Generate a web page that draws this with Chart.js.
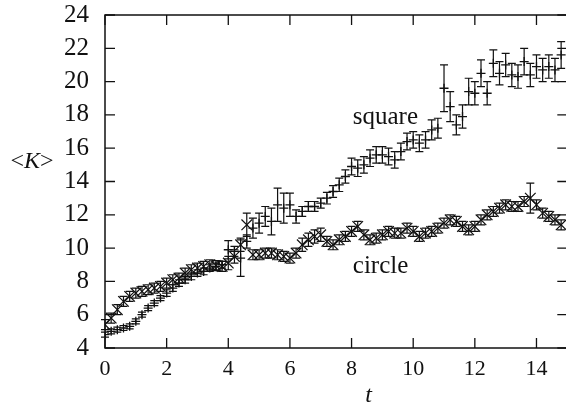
<!DOCTYPE html>
<html>
<head>
<meta charset="utf-8">
<script src="https://cdn.jsdelivr.net/npm/chart.js@4.4.0/dist/chart.umd.min.js"></script>
<style>
  html, body { margin: 0; padding: 0; background: #fff; overflow: hidden; }
  #wrap { width: 566px; height: 407px; overflow: hidden; }
</style>
</head>
<body>
<div id="wrap"><canvas id="chart" width="576" height="407"></canvas></div>
<script>
// time points (shared by both series)
var times = [0, 0.2, 0.4, 0.6, 0.8, 1.0, 1.2, 1.4, 1.6, 1.8,
             2.0, 2.2, 2.4, 2.6, 2.8, 3.0, 3.2, 3.4, 3.6, 3.8,
             4.0, 4.2, 4.4, 4.6, 4.8, 5.0, 5.2, 5.4, 5.6, 5.8,
             6.0, 6.2, 6.4, 6.6, 6.8, 7.0, 7.2, 7.4, 7.6, 7.8,
             8.0, 8.2, 8.4, 8.6, 8.8, 9.0, 9.2, 9.4, 9.6, 9.8,
             10.0, 10.2, 10.4, 10.6, 10.8, 11.0, 11.2, 11.4, 11.6, 11.8,
             12.0, 12.2, 12.4, 12.6, 12.8, 13.0, 13.2, 13.4, 13.6, 13.8,
             14.0, 14.2, 14.4, 14.6, 14.8];

// <K> for the square lattice, with error
var squareK = [4.8, 5.0, 5.1, 5.2, 5.3, 5.6, 6.0, 6.4, 6.7, 7.0,
               7.3, 7.6, 7.9, 8.1, 8.3, 8.5, 8.6, 8.8, 8.9, 9.0,
               9.9, 9.8, 9.4, 10.4, 11.2, 11.5, 11.9, 11.6, 12.6, 12.4,
               12.6, 11.9, 12.2, 12.5, 12.5, 12.7, 13.0, 13.4, 13.8, 14.3,
               14.9, 14.8, 15.0, 15.4, 15.6, 15.6, 15.5, 15.3, 15.8, 16.4,
               16.5, 16.3, 16.5, 17.1, 17.2, 19.6, 18.5, 17.4, 17.9, 19.4,
               19.3, 20.5, 19.3, 21.1, 20.5, 21.0, 20.4, 20.3, 21.2, 20.4,
               20.9, 20.7, 20.9, 20.7, 21.6];
var squareErr = [0.15, 0.15, 0.15, 0.15, 0.15, 0.15, 0.15, 0.15, 0.15, 0.15,
                 0.2, 0.2, 0.2, 0.2, 0.2, 0.2, 0.2, 0.2, 0.2, 0.2,
                 0.55, 0.3, 1.1, 0.4, 0.6, 0.6, 0.6, 0.8, 1.0, 0.9,
                 0.7, 0.4, 0.3, 0.3, 0.3, 0.3, 0.35, 0.35, 0.4, 0.4,
                 0.5, 0.5, 0.5, 0.5, 0.5, 0.5, 0.5, 0.5, 0.5, 0.5,
                 0.5, 0.5, 0.5, 0.6, 0.6, 1.4, 0.9, 0.6, 0.7, 0.8,
                 0.7, 0.8, 0.7, 0.8, 0.7, 0.7, 0.7, 0.7, 0.8, 0.7,
                 0.7, 0.7, 0.7, 0.7, 0.8];

// <K> for the circle lattice, with error
var circleK = [5.4, 5.8, 6.3, 6.8, 7.1, 7.3, 7.4, 7.5, 7.6, 7.7,
               7.9, 8.1, 8.2, 8.5, 8.7, 8.8, 8.9, 9.0, 8.95, 8.9,
               9.1, 9.5, 10.2, 11.4, 9.6, 9.6, 9.7, 9.7, 9.6, 9.5,
               9.4, 9.7, 10.2, 10.5, 10.7, 10.8, 10.4, 10.2, 10.5, 10.7,
               11.0, 11.3, 10.8, 10.5, 10.6, 10.8, 11.0, 10.9, 10.9, 11.2,
               11.0, 10.7, 10.9, 11.0, 11.2, 11.5, 11.7, 11.6, 11.3, 11.1,
               11.3, 11.7, 12.0, 12.2, 12.4, 12.6, 12.5, 12.5, 12.8, 13.0,
               12.6, 12.1, 11.9, 11.7, 11.4];
var circleErr = [0.3, 0.3, 0.3, 0.3, 0.3, 0.3, 0.3, 0.3, 0.3, 0.3,
                 0.3, 0.3, 0.3, 0.3, 0.3, 0.3, 0.3, 0.3, 0.3, 0.3,
                 0.4, 0.4, 0.4, 0.7, 0.3, 0.3, 0.3, 0.3, 0.3, 0.3,
                 0.3, 0.3, 0.4, 0.4, 0.4, 0.4, 0.3, 0.3, 0.3, 0.3,
                 0.3, 0.3, 0.3, 0.3, 0.3, 0.3, 0.3, 0.3, 0.3, 0.3,
                 0.3, 0.3, 0.3, 0.3, 0.3, 0.3, 0.3, 0.3, 0.3, 0.3,
                 0.3, 0.3, 0.3, 0.3, 0.3, 0.3, 0.3, 0.3, 0.3, 0.9,
                 0.3, 0.3, 0.3, 0.3, 0.3];

var xTicks = [0, 2, 4, 6, 8, 10, 12, 14];
var yTicks = [4, 6, 8, 10, 12, 14, 16, 18, 20, 22, 24];

function toPoints(ks, errs) {
  return times.map(function (t, i) { return { x: t, y: ks[i], err: errs[i] }; });
}

var SERIF = '"Liberation Serif", "Times New Roman", serif';

// error bars with small caps, drawn under the markers
var errorBars = {
  id: 'errorBars',
  beforeDatasetsDraw: function (chart) {
    var ctx = chart.ctx, xs = chart.scales.x, ys = chart.scales.y;
    ctx.save();
    ctx.strokeStyle = '#111';
    ctx.lineWidth = 1.2;
    chart.data.datasets.forEach(function (ds) {
      ds.data.forEach(function (p) {
        var px = xs.getPixelForValue(p.x);
        var y1 = ys.getPixelForValue(p.y - p.err);
        var y2 = ys.getPixelForValue(p.y + p.err);
        ctx.beginPath();
        ctx.moveTo(px, y1); ctx.lineTo(px, y2);
        ctx.moveTo(px - 4, y1); ctx.lineTo(px + 4, y1);
        ctx.moveTo(px - 4, y2); ctx.lineTo(px + 4, y2);
        ctx.stroke();
      });
    });
    ctx.restore();
  }
};

// frame, inward ticks on all four sides, axis titles and series labels
var frame = {
  id: 'frame',
  afterDraw: function (chart) {
    var ctx = chart.ctx, a = chart.chartArea, xs = chart.scales.x, ys = chart.scales.y;
    ctx.save();
    ctx.strokeStyle = '#111';
    ctx.lineWidth = 1.5;
    ctx.strokeRect(a.left, a.top, a.right - a.left, a.bottom - a.top);
    ctx.lineWidth = 1.3;
    ctx.beginPath();
    xTicks.forEach(function (v) {
      var px = xs.getPixelForValue(v);
      ctx.moveTo(px, a.bottom); ctx.lineTo(px, a.bottom - 10);
      ctx.moveTo(px, a.top); ctx.lineTo(px, a.top + 10);
    });
    yTicks.forEach(function (v) {
      var py = ys.getPixelForValue(v);
      ctx.moveTo(a.left, py); ctx.lineTo(a.left + 10, py);
      ctx.moveTo(a.right, py); ctx.lineTo(a.right - 10, py);
    });
    ctx.stroke();

    ctx.fillStyle = '#111';
    ctx.textBaseline = 'alphabetic';
    // y title  <K>
    ctx.font = '24px ' + SERIF;
    ctx.textAlign = 'left';
    var lt = ctx.measureText('<').width;
    ctx.font = 'italic 24px ' + SERIF;
    var kw = ctx.measureText('K').width;
    var x0 = 32 - (2 * lt + kw) / 2, yb = 168;
    ctx.font = '24px ' + SERIF;
    ctx.fillText('<', x0, yb);
    ctx.font = 'italic 24px ' + SERIF;
    ctx.fillText('K', x0 + lt, yb);
    ctx.font = '24px ' + SERIF;
    ctx.fillText('>', x0 + lt + kw, yb);
    // x title
    ctx.font = 'italic 24px ' + SERIF;
    ctx.textAlign = 'center';
    ctx.fillText('t', xs.getPixelForValue(8.55), 402);
    // series labels
    ctx.font = '25px ' + SERIF;
    ctx.textAlign = 'left';
    ctx.fillText('square', xs.getPixelForValue(8.04), ys.getPixelForValue(17.45));
    ctx.fillText('circle', xs.getPixelForValue(8.04), ys.getPixelForValue(8.5));
    ctx.restore();
  }
};

var chart = new Chart(document.getElementById('chart'), {
  type: 'scatter',
  data: {
    datasets: [{
      label: 'square',
      data: toPoints(squareK, squareErr),
      pointStyle: 'cross',
      pointRadius: 4.5,
      borderColor: '#111',
      backgroundColor: '#111',
      pointBorderWidth: 1.3
    }, {
      label: 'circle',
      data: toPoints(circleK, circleErr),
      pointStyle: 'crossRot',
      pointRadius: 7.5,
      borderColor: '#111',
      backgroundColor: '#111',
      pointBorderWidth: 1.2
    }]
  },
  options: {
    responsive: false,
    animation: false,
    layout: { padding: { top: 15, right: 4.5, left: 0, bottom: 0 } },
    plugins: {
      legend: { display: false },
      tooltip: { enabled: false }
    },
    scales: {
      x: {
        type: 'linear',
        min: 0,
        max: 15,
        afterBuildTicks: function (scale) {
          scale.ticks = xTicks.map(function (v) { return { value: v }; });
        },
        afterFit: function (scale) {
          scale.height = 59;
          scale.paddingLeft = 0;
          scale.paddingRight = 0;
        },
        border: { display: false },
        grid: { display: false, drawTicks: false },
        ticks: {
          autoSkip: false,
          maxRotation: 0,
          padding: 8,
          color: '#111',
          font: { family: SERIF, size: 22 }
        }
      },
      y: {
        min: 4,
        max: 24,
        afterBuildTicks: function (scale) {
          scale.ticks = yTicks.map(function (v) { return { value: v }; });
        },
        afterFit: function (scale) {
          scale.width = 105;
          scale.paddingTop = 0;
          scale.paddingBottom = 0;
        },
        border: { display: false },
        grid: { display: false, drawTicks: false },
        ticks: {
          autoSkip: false,
          padding: 16,
          color: '#111',
          font: { family: SERIF, size: 25 }
        }
      }
    }
  },
  plugins: [errorBars, frame]
});
</script>
</body>
</html>
